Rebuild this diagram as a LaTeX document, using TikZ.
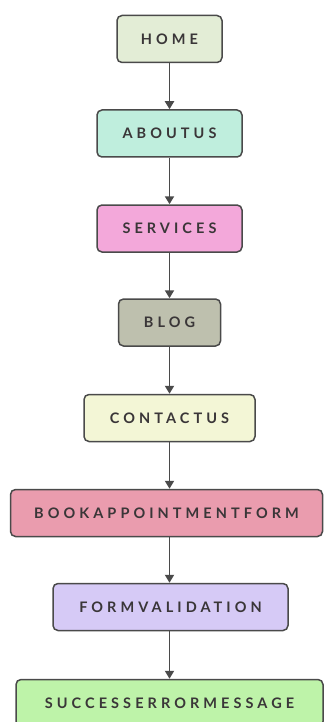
\documentclass[tikz,border=0pt]{standalone}
\usepackage{fontspec}
\setmainfont{Lato}
\newfontfamily\boxfont[LetterSpace=28]{Lato Bold}
\usetikzlibrary{arrows.meta}
\definecolor{cHome}{HTML}{E3EDD6}
\definecolor{cAbout}{HTML}{BFEEDD}
\definecolor{cServ}{HTML}{F3A8DA}
\definecolor{cBlog}{HTML}{BEC0AE}
\definecolor{cCont}{HTML}{F3F6D6}
\definecolor{cBook}{HTML}{EA9CAE}
\definecolor{cForm}{HTML}{D6CAF6}
\definecolor{cSucc}{HTML}{BEF3A9}
\definecolor{cLine}{HTML}{4A4A4A}
\definecolor{cText}{HTML}{3A3638}
\tikzset{
  stepbox/.style={draw=cLine, line width=1.5pt, rounded corners=5pt, minimum height=47pt,
    inner sep=0pt, text=cText, font=\boxfont\fontsize{14.5}{16}\selectfont},
  flow/.style={draw=cLine, line width=1.8pt, -{Triangle[width=9pt,length=8pt]}}
}
\begin{document}
\begin{tikzpicture}[x=1pt,y=-1pt]
\useasboundingbox (0,0) rectangle (325,722);
\node[stepbox, fill=cHome, minimum width=105pt] (home) at (169.5,39) {HOME};
\node[stepbox, fill=cAbout, minimum width=145pt] (about) at (169.5,133.5) {ABOUTUS};
\node[stepbox, fill=cServ, minimum width=145pt] (serv) at (169.5,228.5) {SERVICES};
\node[stepbox, fill=cBlog, minimum width=102pt] (blog) at (169.5,322.5) {BLOG};
\node[stepbox, fill=cCont, minimum width=171pt] (cont) at (169.5,418) {CONTACTUS};
\node[stepbox, fill=cBook, minimum width=312pt] (book) at (166.5,513) {BOOKAPPOINTMENTFORM};
\node[stepbox, fill=cForm, minimum width=235pt] (form) at (170.5,607) {FORMVALIDATION};
\node[stepbox, fill=cSucc, minimum width=307pt] (succ) at (169.5,703) {SUCCESSERRORMESSAGE};
\draw[flow] (home.south) -- (about.north);
\draw[flow] (about.south) -- (serv.north);
\draw[flow] (serv.south) -- (blog.north);
\draw[flow] (blog.south) -- (cont.north);
\draw[flow] (cont.south) -- (cont.south |- book.north);
\draw[flow] (cont.south |- book.south) -- (cont.south |- form.north);
\draw[flow] (cont.south |- form.south) -- (cont.south |- succ.north);
\end{tikzpicture}
\end{document}
